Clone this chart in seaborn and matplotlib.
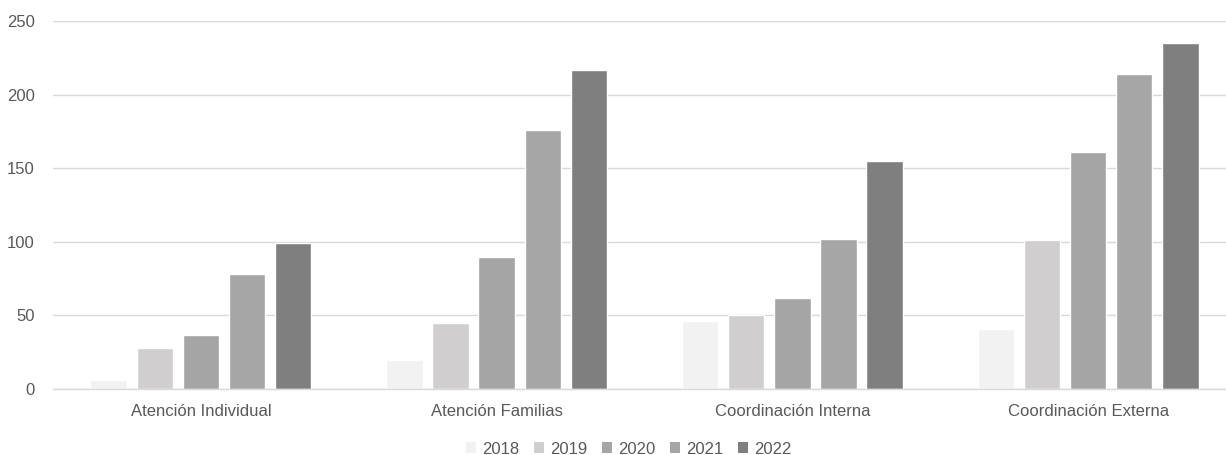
import matplotlib
matplotlib.use("Agg")
import matplotlib.pyplot as plt
import seaborn as sns
import pandas as pd
from matplotlib.patches import Patch

categories = ["Atención Individual", "Atención Familias", "Coordinación Interna", "Coordinación Externa"]
years = ["2018", "2019", "2020", "2021", "2022"]
v2018 = [6, 20, 46, 41]
v2019 = [28, 45, 50, 101]
v2020 = [37, 90, 62, 161]
v2021 = [78, 176, 102, 214]
v2022 = [99, 217, 155, 235]
colors = ["#F2F2F2", "#D0CECE", "#A5A5A5", "#A6A6A6", "#7F7F7F"]

rows = []
for y, vals in zip(years, [v2018, v2019, v2020, v2021, v2022]):
    for c, v in zip(categories, vals):
        rows.append({"cat": c, "year": y, "value": v})
df = pd.DataFrame(rows)

sns.set_theme(style="white")
plt.rcParams['font.family'] = ['Liberation Sans', 'DejaVu Sans']

fig = plt.figure(figsize=(12.26, 4.55), dpi=100)
ax = fig.add_axes([53/1226, 1 - 389/455, 1183/1226, (389 - 21)/455])

sns.barplot(data=df, x="cat", y="value", hue="year", order=categories, hue_order=years,
            palette=colors, width=0.78, gap=0.21, ax=ax, legend=False, saturation=1)

ax.set_ylim(0, 250)
ax.set_xlim(-0.5, 3.5)
ax.set_yticks([0, 50, 100, 150, 200, 250])
ax.yaxis.grid(True, color="#D9D9D9", linewidth=1)
ax.set_axisbelow(True)
for s in ["top", "right", "left"]:
    ax.spines[s].set_visible(False)
ax.spines["bottom"].set_color("#D9D9D9")
ax.spines["bottom"].set_linewidth(1)
ax.set_xlabel("")
ax.set_ylabel("")
ax.tick_params(axis="both", length=0, labelsize=12, labelcolor="#595959")
ax.tick_params(axis="y", pad=13)
ax.tick_params(axis="x", pad=11)

handles = [Patch(facecolor=c, edgecolor="none", label=y) for c, y in zip(colors, years)]
fig.legend(handles=handles, loc="center", bbox_to_anchor=(0.513, 1 - 449/455), ncol=5,
           frameon=False, fontsize=12, handlelength=0.6, handleheight=0.6,
           handletextpad=0.35, columnspacing=0.9, labelcolor="#595959")

fig.savefig("out.png", dpi=100)
